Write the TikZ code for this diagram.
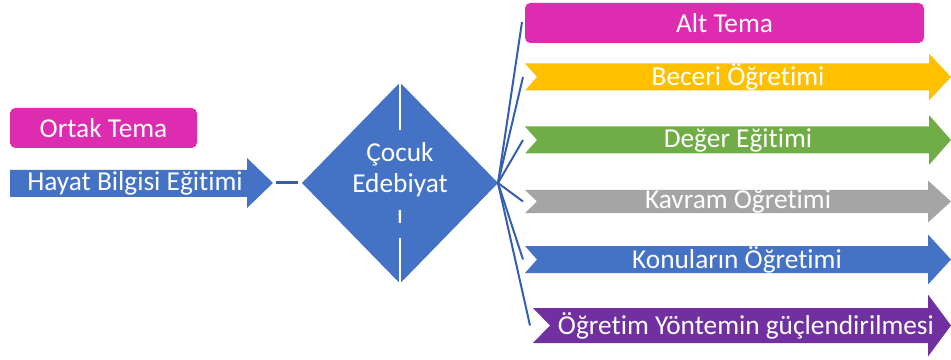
\documentclass[tikz,border=0pt]{standalone}
\usepackage{fontspec}
\setmainfont{Carlito}[Ligatures={NoCommon}]
\usetikzlibrary{shapes.geometric, positioning}
\definecolor{pinkbox}{RGB}{222,44,176}
\definecolor{bluefill}{RGB}{68,114,196}
\definecolor{fanline}{RGB}{52,95,175}
\definecolor{yellowfill}{RGB}{255,192,0}
\definecolor{greenfill}{RGB}{112,173,71}
\definecolor{grayfill}{RGB}{165,165,165}
\definecolor{purplefill}{RGB}{112,48,160}

\begin{document}
\begin{tikzpicture}[x=0.75pt, y=-0.75pt]
		% Define elements
		\tikzstyle{fan} = [draw=fanline, line width=1.5pt]
		\tikzstyle{tema} = [rectangle, fill=pinkbox, rounded corners=4pt, text=white, font=\fontsize{20.5}{24}\selectfont, minimum height=30pt, inner sep=0pt]
		\tikzstyle{label} = [text=white, font=\fontsize{20.5}{24}\selectfont, inner sep=0pt]
		\useasboundingbox (0,0) rectangle (951,360);

		%% Ortak tema
		\node [name = ortak, tema, minimum width=140.25pt] at (103.5,128) {Ortak Tema};
		\fill [bluefill] (10,170) -- (247,170) -- (247,158) -- (273,183) -- (247,208) -- (247,197) -- (10,197) -- cycle;
		\node [name = hayat, label] at (135,183) {Hayat Bilgisi Eğitimi};
		\coordinate (hayat-tip) at (276,183);

		%% Center
		\node [name = cocuk, diamond, fill=bluefill, minimum width=147pt, minimum height=150.75pt,
			inner sep=0pt, outer sep=0pt, align=center, text=white,
			font=\fontsize{20.5}{23.5}\selectfont] at (400,183) {Çocuk\\Edebiyat\\ı};
		\draw [white, line width=1.5pt] (cocuk.north) -- ++(0,48);
		\draw [white, line width=1.5pt] (cocuk.south) -- ++(0,-46);

		%% Alt tema
		\node [name = alt, tema, minimum width=299.25pt] at (724.5,23) {Alt Tema};
		\coordinate (alt-in) at (522,22);

		\fill [yellowfill] (525,63.5) -- (929,63.5) -- (929,53.5) -- (951,77) -- (929,100.5) -- (929,90.5) -- (525,90.5) -- (537,77) -- cycle;
		\node [name = beceri, label] at (738,77) {Beceri Öğretimi};
		\coordinate (beceri-in) at (523,77);

		\fill [greenfill] (525,126.5) -- (929,126.5) -- (929,115) -- (951,140) -- (929,165) -- (929,153.5) -- (525,153.5) -- (537,140) -- cycle;
		\node [name = deger, label] at (738,140) {Değer Eğitimi};
		\coordinate (deger-in) at (523,140);

		\fill [grayfill] (525,190) -- (928,190) -- (928,180.5) -- (951,201.5) -- (928,222.5) -- (928,213) -- (525,213) -- (537,201.5) -- cycle;
		\node [name = kavram, label] at (738,201.5) {Kavram Oğretimi};
		\coordinate (kavram-in) at (523,201.5);

		\fill [bluefill] (525,246) -- (928,246) -- (928,234.5) -- (951,259.5) -- (928,284.5) -- (928,273) -- (525,273) -- (537,259.5) -- cycle;
		\node [name = konu, label] at (737,259.5) {Konuların Öğretimi};
		\coordinate (konu-in) at (523,259.5);

		\fill [purplefill] (533,308) -- (928,308) -- (928,294.5) -- (951,325.5) -- (928,356.5) -- (928,343) -- (533,343) -- (550,325.5) -- cycle;
		\node [name = yontem, label] at (746,325.5) {Öğretim Yöntemin güçlendirilmesi};
		\coordinate (yontem-in) at (530,325.5);

	% lines
		\draw [fanline, line width=2.25pt, shorten >=3pt] (hayat-tip) -- (cocuk.west);
		\path [fan] (cocuk.east) -- (alt-in);
		\path [fan] (cocuk.east) -- (beceri-in);
		\path [fan] (cocuk.east) -- (deger-in);
		\path [fan] (cocuk.east) -- (kavram-in);
		\path [fan] (cocuk.east) -- (konu-in);
		\path [fan] (cocuk.east) -- (yontem-in);
	\end{tikzpicture}
\end{document}
